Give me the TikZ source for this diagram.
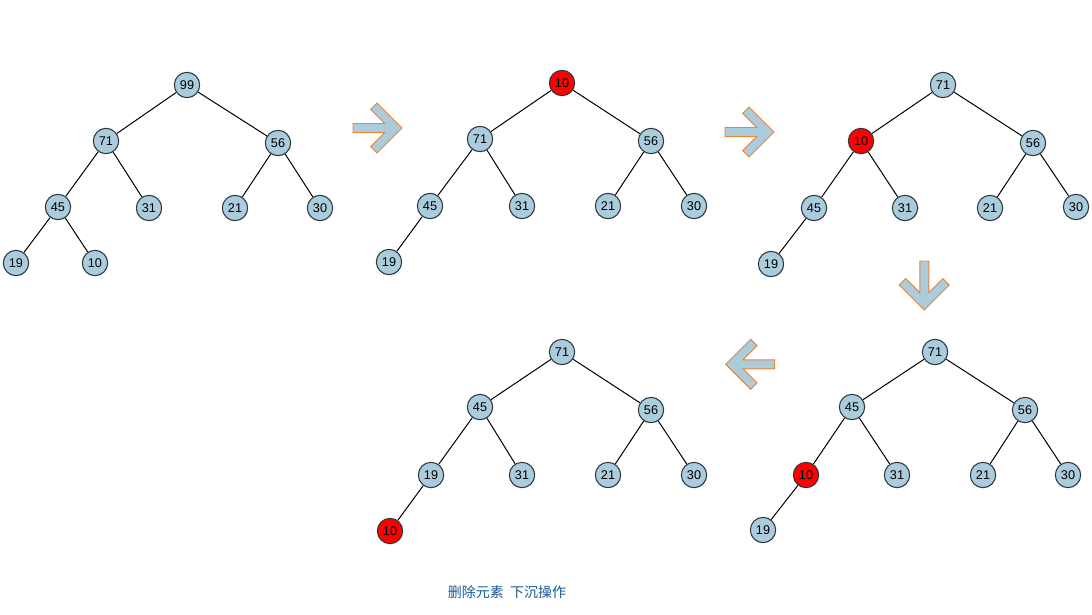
\documentclass[tikz,border=0pt]{standalone}
\usepackage{fontspec}
\setmainfont{Liberation Sans}
\newfontfamily\cjk{Noto Sans CJK SC}
\definecolor{nodeblue}{RGB}{170,204,220}
\definecolor{nodeline}{RGB}{45,55,65}
\definecolor{arrowline}{RGB}{240,130,50}
\definecolor{captionblue}{RGB}{25,90,150}
\tikzset{
  hnode/.style={circle,draw=nodeline,line width=0.8pt,fill=nodeblue,minimum size=19pt,inner sep=0pt,font=\fontsize{9.5}{9.5}\selectfont},
  rnode/.style={hnode,fill=red},
  edge/.style={draw=black,line width=0.75pt},
  pics/bigarrow/.style={code={
    \draw[fill=nodeblue,draw=arrowline,line width=0.7pt]
      (0,0) -- (-25,-25) -- (-31.4,-18.6) -- (-17.3,-4.5) -- (-49,-4.5) -- (-49,4.5) -- (-17.3,4.5) -- (-31.4,18.6) -- (-25,25) -- cycle;
  }}
}
\begin{document}
\begin{tikzpicture}[x=0.75pt,y=-0.75pt]
\useasboundingbox (0,0) rectangle (1092,614);
% Tree 1
\node[hnode] (a99) at (187,85) {99};
\node[hnode] (a71) at (106,141) {71};
\node[hnode] (a56) at (278,143) {56};
\node[hnode] (a45) at (58,207) {45};
\node[hnode] (a31) at (149,208) {31};
\node[hnode] (a21) at (235,208) {21};
\node[hnode] (a30) at (320,208) {30};
\node[hnode] (a19) at (16,263) {19};
\node[hnode] (a10) at (95,263) {10};
\draw[edge] (a99)--(a71) (a99)--(a56) (a71)--(a45) (a71)--(a31) (a56)--(a21) (a56)--(a30) (a45)--(a19) (a45)--(a10);
% Tree 2
\node[rnode] (b10) at (562,83) {10};
\node[hnode] (b71) at (480,139) {71};
\node[hnode] (b56) at (651,141) {56};
\node[hnode] (b45) at (430,206) {45};
\node[hnode] (b31) at (522,206) {31};
\node[hnode] (b21) at (608,206) {21};
\node[hnode] (b30) at (694,206) {30};
\node[hnode] (b19) at (389,262) {19};
\draw[edge] (b10)--(b71) (b10)--(b56) (b71)--(b45) (b71)--(b31) (b56)--(b21) (b56)--(b30) (b45)--(b19);
% Tree 3
\node[hnode] (c71) at (943,85) {71};
\node[rnode] (c10) at (861,141) {10};
\node[hnode] (c56) at (1033,143) {56};
\node[hnode] (c45) at (814,208) {45};
\node[hnode] (c31) at (905,208) {31};
\node[hnode] (c21) at (990,208) {21};
\node[hnode] (c30) at (1076,207) {30};
\node[hnode] (c19) at (771,264) {19};
\draw[edge] (c71)--(c10) (c71)--(c56) (c10)--(c45) (c10)--(c31) (c56)--(c21) (c56)--(c30) (c45)--(c19);
% Tree 4 (bottom right)
\node[hnode] (d71) at (935,352) {71};
\node[hnode] (d45) at (852,407) {45};
\node[hnode] (d56) at (1025,410) {56};
\node[rnode] (d10) at (806,475) {10};
\node[hnode] (d31) at (897,475) {31};
\node[hnode] (d21) at (983,475) {21};
\node[hnode] (d30) at (1068,475) {30};
\node[hnode] (d19) at (763,530) {19};
\draw[edge] (d71)--(d45) (d71)--(d56) (d45)--(d10) (d45)--(d31) (d56)--(d21) (d56)--(d30) (d10)--(d19);
% Tree 5 (bottom middle)
\node[hnode] (e71) at (562,352) {71};
\node[hnode] (e45) at (480,407) {45};
\node[hnode] (e56) at (651,410) {56};
\node[hnode] (e19) at (431,475) {19};
\node[hnode] (e31) at (522,475) {31};
\node[hnode] (e21) at (608,475) {21};
\node[hnode] (e30) at (694,475) {30};
\node[rnode] (e10) at (390,531) {10};
\draw[edge] (e71)--(e45) (e71)--(e56) (e45)--(e19) (e45)--(e31) (e56)--(e21) (e56)--(e30) (e19)--(e10);
% Arrows
\pic at (402,128) {bigarrow};
\pic at (774,132) {bigarrow};
\pic[rotate=-90] at (924.3,310) {bigarrow};
\pic[rotate=180] at (725.7,364.3) {bigarrow};
% Caption
\node[text=captionblue,font=\cjk\fontsize{10.5}{10.5}\selectfont] (cap) at (507,592) {删除元素\ \ 下沉操作};
\end{tikzpicture}
\end{document}
